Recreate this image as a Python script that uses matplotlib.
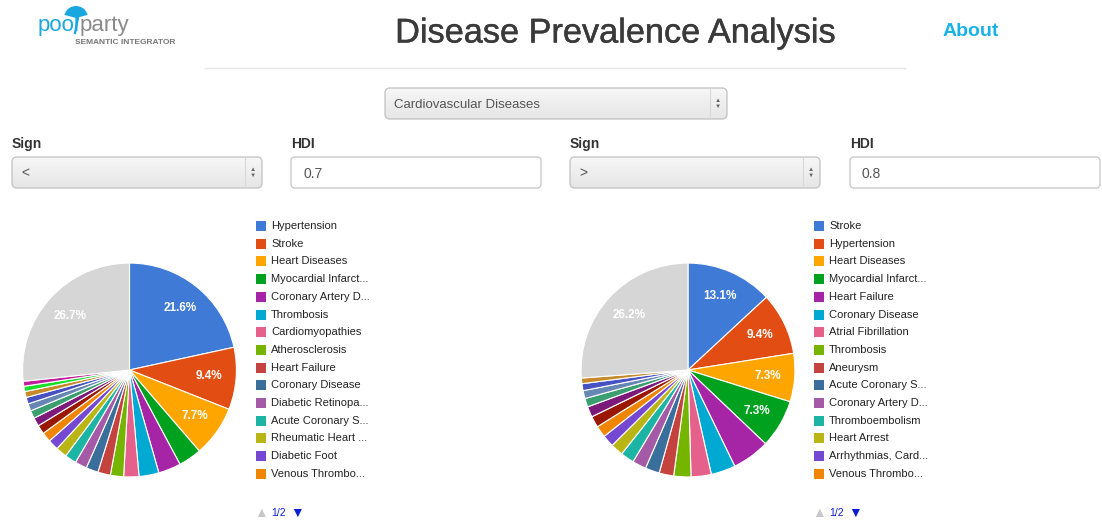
import numpy as np
import matplotlib
matplotlib.use("Agg")
from matplotlib import pyplot as plt
from matplotlib.patches import FancyBboxPatch, Rectangle, Wedge
from matplotlib.colors import LinearSegmentedColormap
import matplotlib.patheffects as pe

plt.rcParams['font.family'] = ['Liberation Sans', 'DejaVu Sans']

W, H = 1102, 522

# ---- data ----
page_title = "Disease Prevalence Analysis"
disease_group = "Cardiovascular Diseases"
left_sign, left_hdi = "<", "0.7"
right_sign, right_hdi = ">", "0.8"

left_names = ["Hypertension", "Stroke", "Heart Diseases", "Myocardial Infarct...",
              "Coronary Artery D...", "Thrombosis", "Cardiomyopathies", "Atherosclerosis",
              "Heart Failure", "Coronary Disease", "Diabetic Retinopa...", "Acute Coronary S...",
              "Rheumatic Heart ...", "Diabetic Foot", "Venous Thrombo..."]
left_values = [21.6, 9.4, 7.7, 3.5, 3.4, 3.0, 2.3, 2.0, 1.9, 1.85, 1.8, 1.75,
               1.7, 1.6, 1.45, 1.35, 1.3, 1.2, 1.1, 1.0, 0.9, 0.8, 0.75]
left_other = 26.7

right_names = ["Stroke", "Hypertension", "Heart Diseases", "Myocardial Infarct...",
               "Heart Failure", "Coronary Disease", "Atrial Fibrillation", "Thrombosis",
               "Aneurysm", "Acute Coronary S...", "Coronary Artery D...", "Thromboembolism",
               "Heart Arrest", "Arrhythmias, Card...", "Venous Thrombo..."]
right_values = [13.1, 9.4, 7.3, 7.3, 5.7, 3.7, 3.05, 2.6, 2.2, 2.15, 2.1, 2.05,
                1.9, 1.8, 1.75, 1.7, 1.6, 1.3, 1.2, 1.05, 0.85]
right_other = 26.2

palette = ['#3f7ad6', '#e24d14', '#ffa500', '#00a11e', '#a625a6', '#00a9d1',
           '#e5608a', '#75b500', '#c4433f', '#3a6e9b', '#a45aa7', '#1cb4a4',
           '#b9b514', '#7548d2', '#ef8500', '#9a1700', '#7b1a7b', '#3a9e70',
           '#6687b4', '#4652c2', '#c68a2a', '#18e02a', '#c21f9f']
other_color = '#d6d6d6'

fig = plt.figure(figsize=(W / 100, H / 100), dpi=100)
bg = fig.add_axes([0, 0, 1, 1])
bg.axis('off')

grad_cmap = LinearSegmentedColormap.from_list('sel', ['#f7f7f7', '#eeeeee', '#e6e6e6'])


def select_box(x, y, w, h, text, fs=10):
    patch = FancyBboxPatch((x, y), w, h, boxstyle="round,pad=0,rounding_size=5",
                           fc='none', ec='#c6c6c6', lw=1, zorder=3)
    bg.add_patch(patch)
    grad = np.linspace(0, 1, 60).reshape(-1, 1)
    im = bg.imshow(grad, cmap=grad_cmap, extent=(x, x + w, y + h, y), aspect='auto',
                   origin='upper', zorder=2)
    im.set_clip_path(patch)
    bg.plot([x + w - 17, x + w - 17], [y + 1, y + h - 1], color='#d8d8d8', lw=0.8, zorder=3)
    bg.text(x + w - 9, y + h / 2 - 3, "▲", fontsize=4.5, color='#666', ha='center', va='center', zorder=4)
    bg.text(x + w - 9, y + h / 2 + 3, "▼", fontsize=4.5, color='#666', ha='center', va='center', zorder=4)
    bg.text(x + 9, y + h / 2 + 1, text, fontsize=fs, color='#555', ha='left', va='center', zorder=4)


def input_box(x, y, w, h, text):
    bg.add_patch(FancyBboxPatch((x, y), w, h, boxstyle="round,pad=0,rounding_size=4",
                                fc='white', ec='#cbcbcb', lw=1, zorder=3))
    bg.text(x + 12, y + h / 2 + 1, text, fontsize=10, color='#555', ha='left', va='center', zorder=4)


# header / logo
bg.add_patch(Wedge((76, 18), 12, 195, 345, fc='#1aa7e0', ec='none'))
bg.plot([78, 75], [18, 33], color='#1aa7e0', lw=1.6)
bg.text(38, 31, "pool", fontsize=16, color='#1aa7e0', ha='left', va='baseline')
bg.text(80, 31, "party", fontsize=16, color='#8a8a8a', ha='left', va='baseline')
bg.text(75, 42, "SEMANTIC INTEGRATOR", fontsize=6, color='#777', fontweight='bold',
        ha='left', va='center')
bg.text(615, 34, page_title, fontsize=24.7, color='#3a3a3a', ha='center', va='center',
        path_effects=[pe.withStroke(linewidth=0.3, foreground='#3a3a3a')])
bg.text(971, 31, "About", fontsize=14, color='#19b2e8', fontweight='bold', ha='center', va='center')
bg.plot([205, 905], [68, 68], color='#e6e6e6', lw=1)

# controls
select_box(385, 88, 342, 31, disease_group, fs=9.5)
for sx, hx, sign, hdi in [(12, 291, left_sign, left_hdi), (570, 850, right_sign, right_hdi)]:
    bg.text(sx, 144, "Sign", fontsize=10, fontweight='bold', color='#333', ha='left', va='center')
    bg.text(hx, 144, "HDI", fontsize=10, fontweight='bold', color='#333', ha='left', va='center')
    select_box(sx, 157, 250, 31, sign)
    input_box(hx, 157, 250, 31, hdi)

R = 108


def draw_pie(cx, cy, values, other, names, lx):
    ax = fig.add_axes([(cx - R) / W, 1 - (cy + R) / H, 2 * R / W, 2 * R / H])
    vals = values + [other]
    cols = palette[:len(values)] + [other_color]
    ax.pie(vals, colors=cols, startangle=90, counterclock=False, radius=1,
           wedgeprops=dict(edgecolor='white', linewidth=0.8),
           autopct=lambda p: f"{p:.1f}%" if p > 7 else "", pctdistance=0.75,
           textprops=dict(color='white', fontsize=8.5, fontweight='bold'))
    ax.set_xlim(-1.01, 1.01)
    ax.set_ylim(-1.01, 1.01)
    # legend (first page)
    for i, name in enumerate(names):
        y = 226 + i * 17.7
        bg.add_patch(Rectangle((lx, y - 5), 10, 10, fc=palette[i], ec='none'))
        bg.text(lx + 15, y, name, fontsize=8, color='#222', ha='left', va='center')
    bg.text(lx + 5, 513, "▲", fontsize=10, color='#c8c8c8', ha='center', va='center')
    bg.text(lx + 15, 513, "1/2", fontsize=7.5, color='#0b1fd0', ha='left', va='center')
    bg.text(lx + 41, 513, "▼", fontsize=10, color='#0b1fd0', ha='center', va='center')


draw_pie(129.5, 370, left_values, left_other, left_names, 256)
draw_pie(688, 370, right_values, right_other, right_names, 814)

bg.set_xlim(0, W)
bg.set_ylim(H, 0)

fig.savefig("out.png", dpi=100)
